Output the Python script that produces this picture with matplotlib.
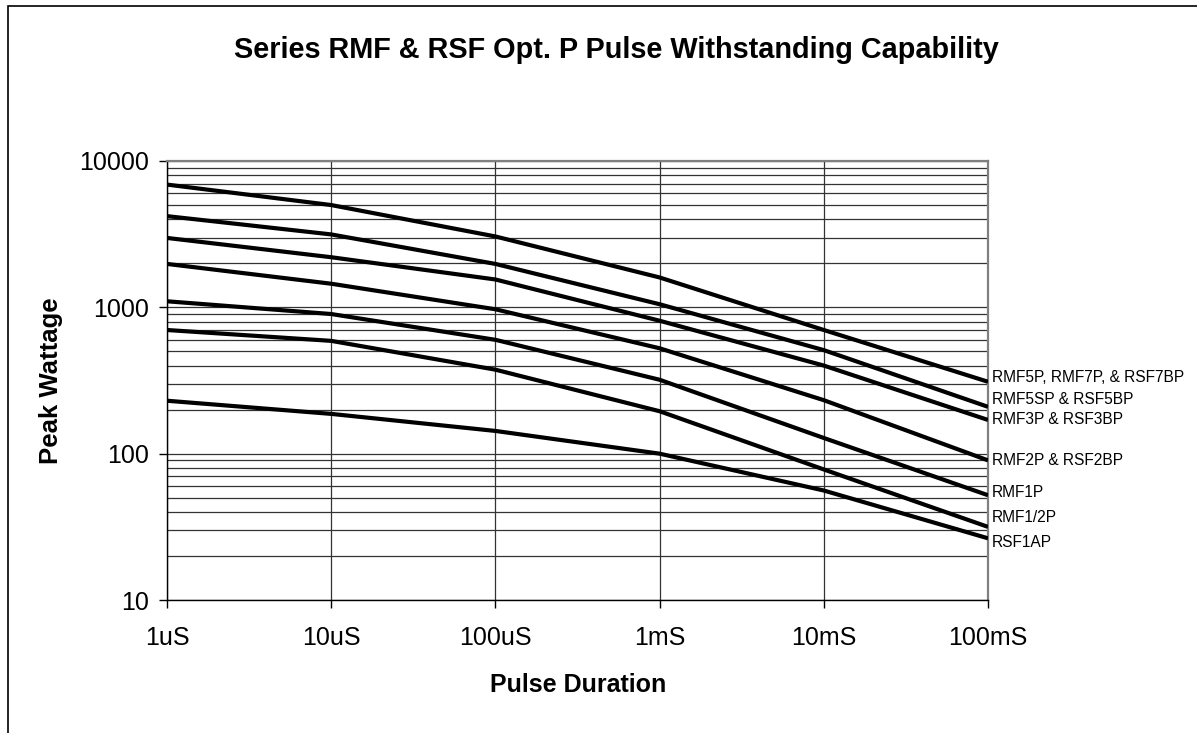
import matplotlib
matplotlib.use("Agg")
import matplotlib.pyplot as plt
from matplotlib.patches import Rectangle
from matplotlib import font_manager as fm

names = {f.name for f in fm.fontManager.ttflist}
NARROW = 'Liberation Sans Narrow' if 'Liberation Sans Narrow' in names else 'Liberation Sans'

plt.rcParams['font.family'] = ['Liberation Sans', 'DejaVu Sans']

# ---- data ----
durations = [1e-6, 1e-5, 1e-4, 1e-3, 1e-2, 1e-1]
tick_labels = ['1uS', '10uS', '100uS', '1mS', '10mS', '100mS']
series_names = ['RMF5P, RMF7P, & RSF7BP', 'RMF5SP & RSF5BP', 'RMF3P & RSF3BP',
                'RMF2P & RSF2BP', 'RMF1P', 'RMF1/2P', 'RSF1AP']
rmf5p = [6900, 5000, 3050, 1600, 700, 310]
rmf5sp = [4200, 3150, 1980, 1050, 510, 209]
rmf3p = [2980, 2200, 1550, 810, 400, 170]
rmf2p = [1980, 1450, 970, 525, 232, 90]
rmf1p = [1100, 900, 600, 320, 128, 52]
rmf12p = [700, 590, 375, 195, 78, 31.6]
rsf1ap = [230, 187, 143, 100, 56, 26.4]
all_series = [rmf5p, rmf5sp, rmf3p, rmf2p, rmf1p, rmf12p, rsf1ap]
label_offsets_px = [4, 7, 0, 0, 3, 9, -4]

fig = plt.figure(figsize=(11.97, 7.33), dpi=100)
ax = fig.add_axes([167/1197, 1-600/733, (988-167)/1197, (600-161)/733])

ax.set_xscale('log')
ax.set_yscale('log')
ax.set_xlim(1e-6, 1e-1)
ax.set_ylim(10, 10000)

for s in all_series:
    ax.plot(durations, s, color='black', lw=3.0, solid_capstyle='butt', zorder=3)

for name, s, off in zip(series_names, all_series, label_offsets_px):
    ax.annotate(name, xy=(durations[-1], s[-1]), xytext=(3, off * 0.72),
                textcoords='offset points', ha='left', va='center',
                fontsize=11.2, family=NARROW, annotation_clip=False)

ax.set_xticks(durations)
ax.set_xticklabels(tick_labels)
ax.xaxis.set_minor_locator(matplotlib.ticker.NullLocator())
ax.set_yticks([10, 100, 1000, 10000])
ax.set_yticklabels(['10', '100', '1000', '10000'])
ax.yaxis.set_minor_locator(matplotlib.ticker.LogLocator(base=10, subs=range(2, 10)))
ax.yaxis.set_minor_formatter(matplotlib.ticker.NullFormatter())

ax.tick_params(axis='both', which='major', direction='out', length=6, width=1,
               color='black', labelsize=18)
ax.tick_params(axis='y', which='minor', length=0)
ax.tick_params(axis='y', which='major', pad=7)
ax.tick_params(axis='x', which='major', pad=13)

ax.grid(True, which='major', axis='both', color='#333333', lw=0.9)
ax.grid(True, which='minor', axis='y', color='#333333', lw=0.9)
ax.set_axisbelow(True)

for sp in ['top', 'right']:
    ax.spines[sp].set_color('#808080')
    ax.spines[sp].set_linewidth(1.6)
for sp in ['left', 'bottom']:
    ax.spines[sp].set_color('black')
    ax.spines[sp].set_linewidth(1.0)

fig.text(578/1197, 1-685/733, 'Pulse Duration', ha='center', va='center',
         fontsize=18, fontweight='bold')
fig.text(51/1197, 1-381/733, 'Peak Wattage', ha='center', va='center',
         fontsize=18.5, fontweight='bold', rotation=90)

fig.text(616/1197, 1-50/733, 'Series RMF & RSF Opt. P Pulse Withstanding Capability',
         ha='center', va='center', fontsize=20.8, fontweight='bold')

fig.patches.append(Rectangle((8/1197, -0.05), 1.2, 1 - 6/733 + 0.05, transform=fig.transFigure,
                             fill=False, edgecolor='black', lw=1.2))

fig.savefig('out.png', dpi=100)
